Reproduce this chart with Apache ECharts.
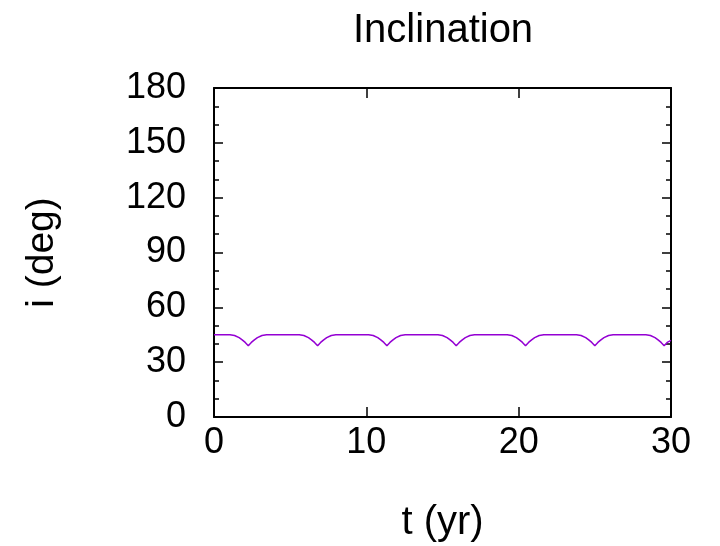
<!DOCTYPE html>
<html>
<head>
<meta charset="utf-8">
<script src="https://cdn.jsdelivr.net/npm/echarts@6/dist/echarts.min.js"></script>
<style>
  html, body { margin: 0; padding: 0; background: #fff; }
  #chart { width: 720px; height: 546px; }
</style>
</head>
<body>
<div id="chart"></div>
<script>
// Orbital inclination over time
const timeYr = [
  0, 1.05, 1.35, 1.65, 1.85, 2.05, 2.25, 2.45, 2.65, 2.85, 3.15, 3.45,
  5.6, 5.9, 6.2, 6.4, 6.6, 6.8, 7.0, 7.2, 7.4, 7.7, 8.0,
  10.15, 10.45, 10.75, 10.95, 11.15, 11.35, 11.55, 11.75, 11.95, 12.25, 12.55,
  14.7, 15.0, 15.3, 15.5, 15.7, 15.9, 16.1, 16.3, 16.5, 16.8, 17.1,
  19.25, 19.55, 19.85, 20.05, 20.25, 20.45, 20.65, 20.85, 21.05, 21.35, 21.65,
  23.8, 24.1, 24.4, 24.6, 24.8, 25.0, 25.2, 25.4, 25.6, 25.9, 26.2,
  28.35, 28.65, 28.95, 29.15, 29.35, 29.55, 29.75, 30.0
];
const inclDeg = [
  45.0, 45.0, 44.6, 43.4, 42.2, 40.8, 39.0, 40.8, 42.2, 43.4, 44.6, 45.0,
  45.0, 44.6, 43.4, 42.2, 40.8, 39.0, 40.8, 42.2, 43.4, 44.6, 45.0,
  45.0, 44.6, 43.4, 42.2, 40.8, 39.0, 40.8, 42.2, 43.4, 44.6, 45.0,
  45.0, 44.6, 43.4, 42.2, 40.8, 39.0, 40.8, 42.2, 43.4, 44.6, 45.0,
  45.0, 44.6, 43.4, 42.2, 40.8, 39.0, 40.8, 42.2, 43.4, 44.6, 45.0,
  45.0, 44.6, 43.4, 42.2, 40.8, 39.0, 40.8, 42.2, 43.4, 44.6, 45.0,
  45.0, 44.6, 43.4, 42.2, 40.8, 39.0, 40.8, 41.9
];
const xTicks = [0, 10, 20, 30];
const yTicks = [0, 30, 60, 90, 120, 150, 180];

const FONT = '"Liberation Sans", Arial, Helvetica, sans-serif';
const frame = { show: true, onZero: false, lineStyle: { color: '#000', width: 2 } };

const chart = echarts.init(document.getElementById('chart'), null, { renderer: 'canvas' });

const baseX = {
  type: 'value',
  min: xTicks[0], max: xTicks[xTicks.length - 1], interval: xTicks[1] - xTicks[0],
  axisLine: frame,
  axisTick: { show: true, inside: true, length: 10, lineStyle: { color: '#000', width: 1.5 } },
  splitLine: { show: false }
};
const baseY = {
  type: 'value',
  min: yTicks[0], max: yTicks[yTicks.length - 1], interval: yTicks[1] - yTicks[0],
  axisLine: frame,
  axisTick: { show: true, inside: true, length: 9, lineStyle: { color: '#000', width: 1.5 } },
  minorTick: { show: true, splitNumber: 3, length: 5, lineStyle: { color: '#000', width: 1.5 } },
  splitLine: { show: false }
};

chart.setOption({
  animation: false,
  backgroundColor: '#fff',
  title: {
    text: 'Inclination',
    left: 348, top: 6,
    textStyle: { fontFamily: FONT, fontSize: 40, fontWeight: 'normal', color: '#000' }
  },
  grid: { left: 214, top: 88, width: 457, height: 329, outerBoundsMode: 'none', containLabel: false },
  xAxis: [
    Object.assign({}, baseX, {
      position: 'bottom',
      name: 't (yr)', nameLocation: 'middle', nameGap: 86,
      nameTextStyle: { fontFamily: FONT, fontSize: 40, color: '#000' },
      axisLabel: { show: true, margin: 8, fontFamily: FONT, fontSize: 36, color: '#000',
                   showMinLabel: true, showMaxLabel: true }
    }),
    Object.assign({}, baseX, { position: 'top', axisLabel: { show: false } })
  ],
  yAxis: [
    Object.assign({}, baseY, {
      position: 'left',
      name: 'i (deg)', nameLocation: 'middle', nameGap: 152, nameRotate: 90,
      nameTextStyle: { fontFamily: FONT, fontSize: 39, color: '#000' },
      axisLabel: { show: true, margin: 28, fontFamily: FONT, fontSize: 36, color: '#000',
                   showMinLabel: true, showMaxLabel: true }
    }),
    Object.assign({}, baseY, { position: 'right', axisLabel: { show: false } })
  ],
  series: [{
    type: 'line',
    xAxisIndex: 0, yAxisIndex: 0,
    data: timeYr.map((t, k) => [t, inclDeg[k]]),
    showSymbol: false,
    smooth: false,
    lineStyle: { color: '#9400d3', width: 1.5 },
    clip: true
  }]
});
</script>
</body>
</html>
